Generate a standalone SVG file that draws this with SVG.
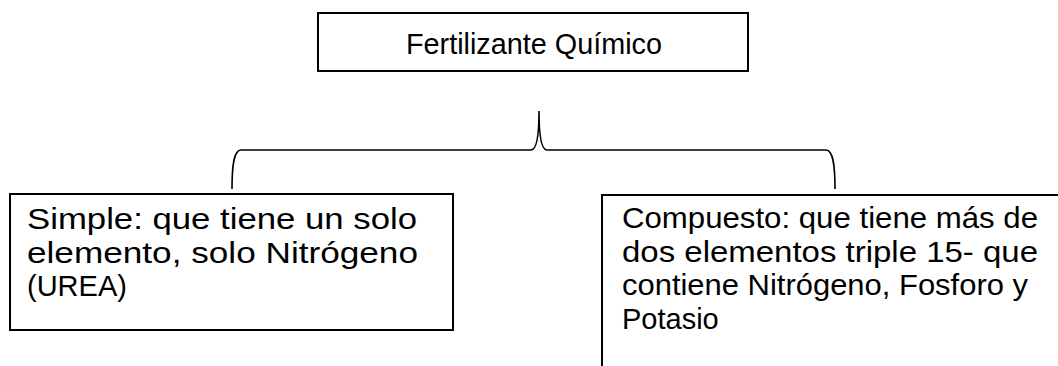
<svg xmlns="http://www.w3.org/2000/svg" width="1058" height="366" viewBox="0 0 1058 366">
<style>
.box{fill:#fff;stroke:#000;stroke-width:2}
.t{font-family:"Liberation Sans",Arial,sans-serif;font-size:29px;fill:#000}
.br{fill:none;stroke:#000;stroke-width:1.6}
</style>
<rect width="1058" height="366" fill="#fff"/>
<g id="connectors">
<path class="br" d="M232,189 C232,165 234,150 241,150 L531,150 C536,150 539,140 539,111 C539,140 542,150 547,150 L826,150 C833,150 835,165 835,189"/>
</g>
<g id="node-top">
<rect class="box" x="318" y="13" width="430" height="58"/>
<text class="t" x="406" y="54" textLength="256" lengthAdjust="spacingAndGlyphs">Fertilizante Químico</text>
</g>
<g id="node-simple">
<rect class="box" x="10" y="194" width="443" height="136"/>
<text class="t" x="27" y="229" textLength="390" lengthAdjust="spacingAndGlyphs">Simple:  que tiene un solo</text>
<text class="t" x="27" y="263" textLength="391" lengthAdjust="spacingAndGlyphs">elemento, solo Nitrógeno</text>
<text class="t" x="27" y="296">(UREA)</text>
</g>
<g id="node-compuesto">
<rect class="box" x="602" y="195" width="480" height="200"/>
<text class="t" x="622" y="228" textLength="416" lengthAdjust="spacingAndGlyphs">Compuesto: que tiene más de</text>
<text class="t" x="622" y="262" textLength="416" lengthAdjust="spacingAndGlyphs">dos elementos triple 15- que</text>
<text class="t" x="622" y="295" textLength="406" lengthAdjust="spacingAndGlyphs">contiene Nitrógeno, Fosforo y</text>
<text class="t" x="622" y="329">Potasio</text>
</g>
</svg>
